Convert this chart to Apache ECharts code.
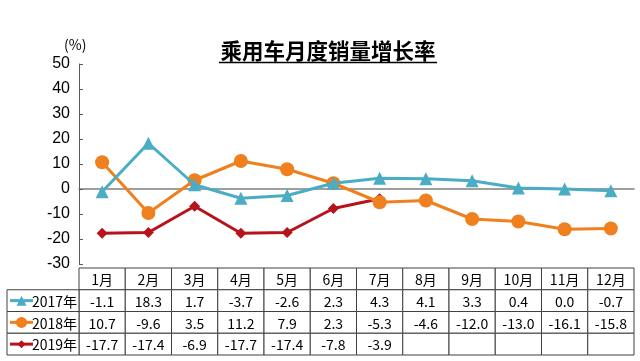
<!DOCTYPE html>
<html><head><meta charset="utf-8">
<script src="https://cdn.jsdelivr.net/npm/echarts@6/dist/echarts.min.js"></script>
<style>html,body{margin:0;padding:0;background:#fff}#c{width:640px;height:361px}</style>
</head><body><div id="c"></div>
<script>
const months = ['1月','2月','3月','4月','5月','6月','7月','8月','9月','10月','11月','12月'];
const seriesNames = ['2017年','2018年','2019年'];
const v2017 = [-1.1,18.3,1.7,-3.7,-2.6,2.3,4.3,4.1,3.3,0.4,0.0,-0.7];
const v2018 = [10.7,-9.6,3.5,11.2,7.9,2.3,-5.3,-4.6,-12.0,-13.0,-16.1,-15.8];
const v2019 = [-17.7,-17.4,-6.9,-17.7,-17.4,-7.8,-3.9];
const yTicks = {min:-30, max:50, interval:10};
const colors = ['#4BACC6','#F07F1E','#B8121B'];
const symbols = ['triangle','circle','diamond'];
const symbolSizes = [13,14,11];
const allVals = [v2017, v2018, v2019];

const rowCats = ['h'].concat(seriesNames);
const cells = [];
months.forEach((m,c)=>cells.push({c, r:0, text:m}));
allVals.forEach((arr,i)=>{
  for(let c=0;c<12;c++){
    cells.push({c, r:i+1, text: c<arr.length ? arr[c].toFixed(1) : '', series:i});
  }
});

const chart = echarts.init(document.getElementById('c'));
const font = "'Noto Sans CJK SC', sans-serif";

function symbolShape(i, cx, cy, sz){
  if(i===1) return {type:'circle', shape:{cx, cy, r:sz/2}};
  if(i===0) return {type:'polygon', shape:{points:[[cx,cy-sz/2],[cx+sz/2,cy+sz/2],[cx-sz/2,cy+sz/2]]}};
  return {type:'polygon', shape:{points:[[cx,cy-sz/2],[cx+sz/2,cy],[cx,cy+sz/2],[cx-sz/2,cy]]}};
}

chart.setOption({
  animation:false,
  graphic:[
    {type:'text', x:328, y:51, style:{text:'乘用车月度销量增长率', font:"bold 21.5px "+font, fill:'#000', align:'center', verticalAlign:'middle'}},
    {type:'line', shape:{x1:219,y1:62.5,x2:437,y2:62.5}, style:{stroke:'#000', lineWidth:1.5}},
    {type:'text', left:64, top:38, style:{text:'(%)', font:"14px "+font, fill:'#000'}}
  ],
  grid:[
    {left:79, right:6, top:64, bottom:97},
    {left:79, right:6, top:268, height:87}
  ],
  xAxis:[
    {type:'category', gridIndex:0, data:months, boundaryGap:true,
     axisLine:{onZero:true, lineStyle:{color:'#7f7f7f', width:1.5}}, axisTick:{show:false}, axisLabel:{show:false}},
    {type:'category', gridIndex:1, data:months, show:false}
  ],
  yAxis:[
    {type:'value', gridIndex:0, min:yTicks.min, max:yTicks.max, interval:yTicks.interval,
     axisLine:{show:true, lineStyle:{color:'#595959'}}, axisTick:{show:true, inside:true, length:4, lineStyle:{color:'#595959'}},
     splitLine:{show:false}, axisLabel:{color:'#000', fontSize:16, fontFamily:'Liberation Sans, Arial', margin:9}},
    {type:'category', gridIndex:1, data:rowCats, inverse:true, show:false}
  ],
  series: allVals.map((arr,i)=>({
    type:'line', name:seriesNames[i], xAxisIndex:0, yAxisIndex:0, data:arr,
    symbol:symbols[i], symbolSize:symbolSizes[i],
    lineStyle:{color:colors[i], width:3}, itemStyle:{color:colors[i]}, z:10-i
  })).concat([{
    type:'custom', xAxisIndex:1, yAxisIndex:1, clip:false,
    data: cells.map(d=>[d.c, d.r]),
    renderItem(params, api){
      const d = cells[params.dataIndex];
      const p = api.coord([d.c, d.r]);
      const s = api.size([1,1]);
      const w = s[0], h = s[1];
      const x0 = p[0]-w/2, y0 = p[1]-h/2;
      const children = [
        {type:'rect', shape:{x:x0,y:y0,width:w,height:h}, style:{fill:'#fff', stroke:'#404040', lineWidth:1}},
        {type:'text', style:{text:d.text, x:p[0], y:p[1]+1, align:'center', verticalAlign:'middle', font:"14px "+font, fill:'#000'}}
      ];
      if(d.c===0 && d.r>0){
        const lx = params.coordSys.x - 72;
        const i = d.series;
        children.push({type:'rect', shape:{x:lx,y:y0,width:72,height:h}, style:{fill:'#fff', stroke:'#404040', lineWidth:1}});
        children.push({type:'line', shape:{x1:lx+3,y1:p[1],x2:lx+26,y2:p[1]}, style:{stroke:colors[i], lineWidth:3}});
        const sym = symbolShape(i, lx+14.5, p[1], i===2?8:(i===0?10:11));
        sym.style = {fill:colors[i]};
        children.push(sym);
        children.push({type:'text', style:{text:seriesNames[i], x:lx+70, y:p[1]+1, align:'right', verticalAlign:'middle', font:"14px "+font, fill:'#000'}});
      }
      return {type:'group', children};
    }
  }])
});
</script></body></html>
